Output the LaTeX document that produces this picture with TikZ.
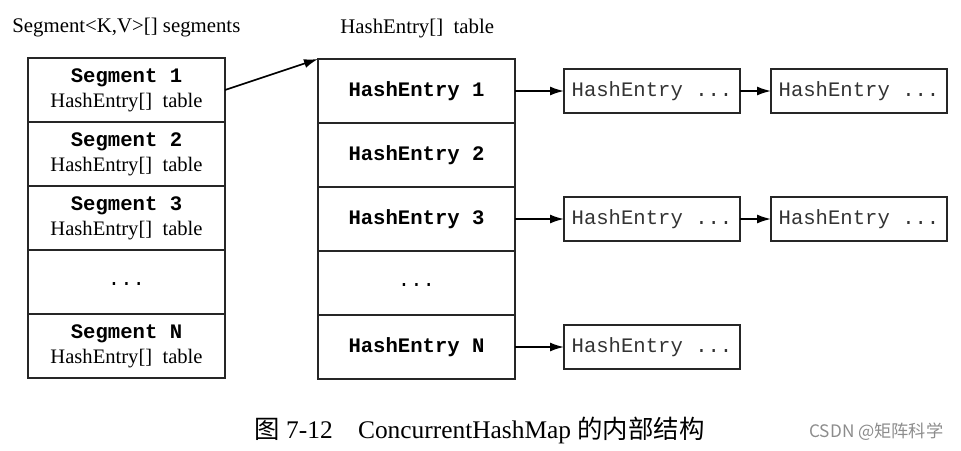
\documentclass[tikz,border=0pt]{standalone}
\usepackage{fontspec}
\setmainfont{Liberation Serif}
\setmonofont{Liberation Mono}
\newfontfamily\cjk{Noto Sans CJK SC}
\usetikzlibrary{positioning,arrows.meta}
\begin{document}
\begin{tikzpicture}[x=0.5pt,y=-0.5pt,>={Latex[length=7pt,width=4.5pt]},
  cell/.style={draw=black!85,line width=0.9pt,outer sep=0pt,minimum width=98.5pt,minimum height=32pt,
    inner sep=0pt,align=center,font=\fontsize{10.3}{12.5}\selectfont},
  entry/.style={draw=black!85,line width=0.9pt,outer sep=0pt,minimum width=88pt,minimum height=22pt,
    inner sep=0pt,text=black!80,font=\fontsize{10.3}{12}\ttfamily},
  title/.style={anchor=base west,inner sep=0pt,font=\fontsize{10.4}{12}\selectfont},
  link/.style={->,line width=0.8pt}]
\useasboundingbox (0,0) rectangle (961,450);
\node[title] (seglbl) at (12,32) {Segment<K,V>[] segments};
\node[title] (tbllbl) at (340,33) {HashEntry[]~ table};
\node[cell] (seg1) at (126.5,90) {\ttfamily\bfseries Segment 1\\HashEntry[]~ table};
\node[cell,below=0pt of seg1] (seg2) {\ttfamily\bfseries Segment 2\\HashEntry[]~ table};
\node[cell,below=0pt of seg2] (seg3) {\ttfamily\bfseries Segment 3\\HashEntry[]~ table};
\node[cell,below=0pt of seg3] (segdots) {\raisebox{-3.5pt}{\ttfamily ...}};
\node[cell,below=0pt of segdots] (segN) {\ttfamily\bfseries Segment N\\HashEntry[]~ table};
\node[cell] (he1) at (416.5,91) {\ttfamily\bfseries HashEntry 1};
\node[cell,below=0pt of he1] (he2) {\ttfamily\bfseries HashEntry 2};
\node[cell,below=0pt of he2] (he3) {\ttfamily\bfseries HashEntry 3};
\node[cell,below=0pt of he3] (hedots) {\raisebox{-3.5pt}{\ttfamily ...}};
\node[cell,below=0pt of hedots] (heN) {\ttfamily\bfseries HashEntry N};
\node[entry,right=24.5pt of he1] (e11) {HashEntry ...};
\node[entry,right=15.5pt of e11] (e12) {HashEntry ...};
\node[entry,right=24.5pt of he3] (e31) {HashEntry ...};
\node[entry,right=15.5pt of e31] (e32) {HashEntry ...};
\node[entry,right=24.5pt of heN] (eN1) {HashEntry ...};
\draw[link] (seg1.east) -- (he1.north west);
\draw[link] (he1.east) -- (e11.west);
\draw[link] (e11.east) -- (e12.west);
\draw[link] (he3.east) -- (e31.west);
\draw[link] (e31.east) -- (e32.west);
\draw[link] (heN.east) -- (eN1.west);
\node[title,font=\fontsize{12.7}{14}\selectfont] (cap) at (254,438) {{\cjk 图} 7-12\quad ConcurrentHashMap {\cjk 的内部结构}};
\node[title,text=black!45,font=\fontsize{8.6}{10}\cjk] (mark) at (809,437) {CSDN @矩阵科学};
\end{tikzpicture}
\end{document}
